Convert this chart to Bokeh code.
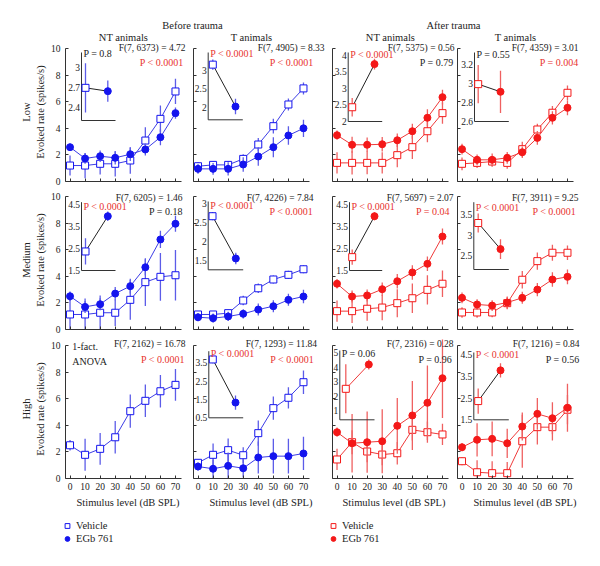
import numpy as np
from bokeh.plotting import figure
from bokeh.models import (Range1d, LinearAxis, Label, ColumnDataSource, FixedTicker,
                          Legend, LegendItem)
from bokeh.layouts import column, row
from bokeh.embed import file_html
from bokeh.resources import INLINE
from bokeh.core.properties import value

FONT = "Liberation Serif"

# ---------------- data ----------------
levels = [0, 10, 20, 30, 40, 50, 60, 70]
rate_ticks = [0, 2, 4, 6, 8, 10]
row_names = ["Low", "Medium", "High"]
group_titles = ["Before trauma", "After trauma"]
col_titles = ["NT animals", "T animals", "NT animals", "T animals"]
treatments = ["Vehicle", "EGb 761"]

# --- Low ---
nt_before_low_vehicle = [1.20, 1.20, 1.33, 1.33, 1.58, 3.08, 4.71, 6.77]
nt_before_low_vehicle_sem = [0.75, 0.95, 0.80, 0.95, 1.00, 1.00, 1.00, 0.95]
nt_before_low_egb = [2.58, 1.73, 1.90, 1.78, 2.05, 2.41, 3.33, 5.14]
nt_before_low_egb_sem = [0.25, 0.40, 0.43, 0.50, 0.50, 0.45, 0.60, 0.43]
t_before_low_vehicle = [1.15, 1.25, 1.25, 1.70, 2.78, 4.16, 5.79, 7.00]
t_before_low_vehicle_sem = [0.30, 0.30, 0.30, 0.35, 0.50, 0.55, 0.45, 0.45]
t_before_low_egb = [0.95, 0.95, 0.95, 1.28, 1.88, 2.58, 3.46, 4.00]
t_before_low_egb_sem = [0.37, 0.45, 0.50, 0.55, 0.70, 0.75, 0.70, 0.65]
nt_after_low_vehicle = [1.40, 1.40, 1.40, 1.40, 1.98, 2.58, 3.78, 5.14]
nt_after_low_vehicle_sem = [0.80, 0.88, 0.85, 0.80, 0.90, 0.88, 0.82, 0.80]
nt_after_low_egb = [3.48, 2.76, 2.76, 2.80, 3.10, 3.78, 4.79, 6.34]
nt_after_low_egb_sem = [0.35, 0.60, 0.55, 0.55, 0.50, 0.57, 0.64, 0.55]
t_after_low_vehicle = [1.33, 1.40, 1.50, 1.40, 2.43, 3.91, 5.17, 6.67]
t_after_low_vehicle_sem = [0.48, 0.38, 0.40, 0.44, 0.56, 0.44, 0.50, 0.54]
t_after_low_egb = [2.43, 1.63, 1.63, 1.78, 2.20, 3.28, 4.79, 5.54]
t_after_low_egb_sem = [0.40, 0.40, 0.48, 0.44, 0.44, 0.52, 0.50, 0.56]

# --- Medium ---
nt_before_med_vehicle = [1.13, 1.13, 1.26, 1.26, 2.23, 3.56, 3.96, 4.08]
nt_before_med_vehicle_sem = [1.25, 1.20, 1.30, 1.00, 1.50, 1.80, 1.80, 1.90]
nt_before_med_egb = [2.50, 1.70, 1.90, 2.70, 3.26, 4.68, 6.77, 7.95]
nt_before_med_egb_sem = [0.35, 0.45, 0.45, 0.50, 0.55, 0.60, 0.65, 0.60]
t_before_med_vehicle = [1.13, 1.13, 1.23, 2.18, 3.10, 3.76, 4.11, 4.53]
t_before_med_vehicle_sem = [0.20, 0.25, 0.25, 0.35, 0.35, 0.30, 0.30, 0.30]
t_before_med_egb = [0.92, 0.85, 0.98, 1.18, 1.50, 1.75, 2.23, 2.48]
t_before_med_egb_sem = [0.30, 0.35, 0.35, 0.35, 0.45, 0.45, 0.45, 0.50]
nt_after_med_vehicle = [1.38, 1.38, 1.56, 1.65, 1.98, 2.35, 2.98, 3.44]
nt_after_med_vehicle_sem = [0.80, 0.90, 0.90, 0.95, 1.05, 1.10, 1.10, 1.00]
nt_after_med_egb = [3.44, 2.48, 2.56, 3.03, 3.63, 4.29, 4.94, 6.99]
nt_after_med_egb_sem = [0.35, 0.45, 0.45, 0.50, 0.55, 0.55, 0.55, 0.60]
t_after_med_vehicle = [1.28, 1.28, 1.28, 1.98, 3.74, 5.14, 5.77, 5.77]
t_after_med_vehicle_sem = [0.40, 0.40, 0.35, 0.45, 0.65, 0.65, 0.60, 0.55]
t_after_med_egb = [2.38, 1.88, 1.80, 2.03, 2.38, 3.00, 3.76, 3.96]
t_after_med_egb_sem = [0.40, 0.40, 0.40, 0.45, 0.45, 0.50, 0.55, 0.55]

# --- High ---
nt_before_high_vehicle = [2.50, 1.78, 2.23, 3.10, 5.06, 5.84, 6.56, 7.04]
nt_before_high_vehicle_sem = [0.40, 1.20, 1.20, 1.22, 1.25, 1.22, 1.22, 1.20]
t_before_high_vehicle = [1.18, 1.78, 2.13, 1.75, 3.41, 5.29, 6.07, 7.24]
t_before_high_vehicle_sem = [0.25, 0.85, 0.88, 0.60, 0.95, 0.88, 0.80, 0.88]
t_before_high_egb = [0.90, 0.73, 0.95, 0.77, 1.58, 1.68, 1.68, 1.88]
t_before_high_egb_sem = [0.30, 0.70, 1.00, 0.70, 1.20, 1.30, 1.30, 1.25]
nt_after_high_vehicle = [1.43, 2.73, 2.03, 1.80, 1.90, 3.66, 3.48, 3.31]
nt_after_high_vehicle_sem = [0.80, 0.90, 0.80, 0.80, 0.85, 0.80, 0.80, 0.80]
nt_after_high_egb = [3.48, 2.65, 2.73, 2.80, 3.96, 4.74, 5.69, 7.54]
nt_after_high_egb_sem = [0.35, 2.20, 2.30, 2.40, 2.10, 2.60, 2.80, 3.00]
t_after_high_vehicle = [1.30, 0.47, 0.40, 0.40, 2.80, 3.86, 3.86, 5.17]
t_after_high_vehicle_sem = [0.30, 0.90, 0.90, 0.85, 2.00, 1.30, 1.00, 1.10]
t_after_high_egb = [2.35, 2.91, 2.98, 2.65, 3.91, 4.86, 4.53, 5.32]
t_after_high_egb_sem = [0.30, 1.25, 1.30, 1.10, 1.05, 1.20, 1.20, 1.80]

# --- statistics text ---
f_stats = [["F(7, 6373) = 4.72", "F(7, 4905) = 8.33", "F(7, 5375) = 0.56", "F(7, 4359) = 3.01"],
           ["F(7, 6205) = 1.46", "F(7, 4226) = 7.84", "F(7, 5697) = 2.07", "F(7, 3911) = 9.25"],
           ["F(7, 2162) = 16.78", "F(7, 1293) = 11.84", "F(7, 2316) = 0.28", "F(7, 1216) = 0.84"]]
p_main = [["P < 0.0001", "P < 0.0001", "P = 0.79", "P = 0.004"],
          ["P = 0.18", "P < 0.0001", "P = 0.04", "P < 0.0001"],
          ["P < 0.0001", "P < 0.0001", "P = 0.96", "P = 0.56"]]
p_main_signif = [[True, True, False, True],
                 [False, True, True, True],
                 [True, True, False, False]]
anova_note = ["1-fact.", "ANOVA"]

# --- insets: [Vehicle, EGb 761] mean rate over levels ---
inset_nt_before_low = [2.70, 2.65]
inset_nt_before_low_sem = [0.37, 0.16]
inset_t_before_low = [3.16, 2.02]
inset_t_before_low_sem = [0.14, 0.21]
inset_nt_after_low = [2.43, 3.73]
inset_nt_after_low_sem = [0.28, 0.16]
inset_t_after_low = [2.99, 2.91]
inset_t_after_low_sem = [0.20, 0.22]
inset_nt_before_med = [2.37, 3.98]
inset_nt_before_med_sem = [0.60, 0.22]
inset_t_before_med = [2.67, 1.55]
inset_t_before_med_sem = [0.11, 0.15]
inset_nt_after_med = [2.11, 3.98]
inset_nt_after_med_sem = [0.35, 0.18]
inset_t_after_med = [3.30, 2.66]
inset_t_after_med_sem = [0.23, 0.24]
inset_t_before_high = [3.68, 1.33]
inset_t_before_high_sem = [0.20, 0.39]
inset_nt_after_high = [2.50, 4.19]
inset_nt_after_high_sem = [1.70, 0.35]
inset_t_after_high = [2.36, 3.77]
inset_t_after_high_sem = [0.58, 0.33]

inset_ticks_nt_before_low = [2.4, 2.7, 3.0]
inset_ticks_t_before_low = [2.0, 2.5, 3.0]
inset_ticks_nt_after_low = [2.0, 2.5, 3.0, 3.5, 4.0]
inset_ticks_t_after_low = [2.6, 2.8, 3.0, 3.2]
inset_ticks_nt_before_med = [1.5, 2.5, 3.5, 4.5]
inset_ticks_t_before_med = [1.5, 2.0, 2.5, 3.0]
inset_ticks_nt_after_med = [1.5, 2.5, 3.5, 4.5]
inset_ticks_t_after_med = [2.5, 3.0, 3.5]
inset_ticks_t_before_high = [0.5, 1.5, 2.5, 3.5]
inset_ticks_nt_after_high = [1, 2, 3, 4, 5]
inset_ticks_t_after_high = [1.5, 2.5, 3.5, 4.5]

inset_p = [["P = 0.8", "P < 0.0001", "P < 0.0001", "P = 0.55"],
           ["P < 0.0001", "P < 0.0001", "P < 0.0001", "P < 0.0001"],
           [None, "P < 0.0001", "P = 0.06", "P < 0.0001"]]
inset_p_signif = [[False, True, True, False],
                  [True, True, True, True],
                  [False, True, False, True]]

# ---------------- styles / layout ----------------
BLUE = dict(marker="#1414ee", line="#3c3ce6", err="#5c5ce8")
RED = dict(marker="#f41818", line="#ef3a3a", err="#ef6060")
P_RED = "#e8332e"
TXT = "#222222"
AX = "#333333"

AW, AH = 116, 133          # axis box (data area) size in px
XR = (-3, 74)              # x data span of the axis box
YR = (0, 10)               # y data span of the axis box
PXU = AW / (XR[1] - XR[0])
PYU = AH / (YR[1] - YR[0])
col_left = [65, 3, 4, 2]   # space left of axis box
col_right = [9, 19, 7, 19] # free space right of axis box (inside frame, no axis there)
row_top = [6, 6, 6]        # free space above axis box (inside frame)
row_bottom = [9, 10, 32]
HEADER_H = 42
FOOTER_H = 35

# offsets (px) of F / P stat labels from axis-box top-right corner
f_dx = [[4, 15, 6, 5], [1, 4, 5, 5], [4, 7.5, 5, 6]]
p_dx = [[2, 4, 5, 5], [1.3, 3.7, 1.3, 2.7], [3.3, 4.5, 3.7, 6]]
f_dy = [-0.5, 1, -1.5]
p_dy = [14, 15, 13.7]
# vertical offset (px) of inset P label centre below inset axis top
inset_p_dy = [[1.3, 1.3, 2.3, 2.3], [4, 4, 4, 5.6], [0, 2.6, 3.3, 2]]

# inset geometry: left, right, top, bottom, x of vehicle, x of EGb (px from axis-box top-left)
inset_geom = [
    [dict(l=16, r=50, t=4, b=72, xv=20, xe=42.3, lim=(2.21, 3.23)),
     dict(l=14.7, r=49.3, t=4, b=71.3, xv=19.3, xe=42, lim=(1.66, 3.49)),
     dict(l=15.7, r=49.7, t=4, b=73, xv=19.7, xe=42, lim=(2.0, 4.08)),
     dict(l=17, r=51.3, t=4, b=73, xv=20.7, xe=43, lim=(2.6, 3.32))],
    [dict(l=16, r=50, t=5.7, b=74, xv=20, xe=42.3, lim=(1.5, 4.62)),
     dict(l=14.7, r=49.7, t=5, b=73.3, xv=19, xe=42.3, lim=(1.25, 3.06)),
     dict(l=17, r=49.7, t=5.7, b=74, xv=19.7, xe=42, lim=(1.5, 4.62)),
     dict(l=16.3, r=51.3, t=5.7, b=73, xv=20.7, xe=43, lim=(2.16, 3.81))],
    [None,
     dict(l=15.3, r=49.7, t=5.7, b=72.3, xv=19.3, xe=42, lim=(0.5, 4.13)),
     dict(l=7.3, r=42, t=5, b=74.3, xv=13.3, xe=36.3, lim=(0.35, 5.16)),
     dict(l=16.3, r=51.3, t=7, b=74.3, xv=20.7, xe=43, lim=(1.5, 4.59))],
]

series = [
    [(nt_before_low_vehicle, nt_before_low_vehicle_sem, nt_before_low_egb, nt_before_low_egb_sem),
     (t_before_low_vehicle, t_before_low_vehicle_sem, t_before_low_egb, t_before_low_egb_sem),
     (nt_after_low_vehicle, nt_after_low_vehicle_sem, nt_after_low_egb, nt_after_low_egb_sem),
     (t_after_low_vehicle, t_after_low_vehicle_sem, t_after_low_egb, t_after_low_egb_sem)],
    [(nt_before_med_vehicle, nt_before_med_vehicle_sem, nt_before_med_egb, nt_before_med_egb_sem),
     (t_before_med_vehicle, t_before_med_vehicle_sem, t_before_med_egb, t_before_med_egb_sem),
     (nt_after_med_vehicle, nt_after_med_vehicle_sem, nt_after_med_egb, nt_after_med_egb_sem),
     (t_after_med_vehicle, t_after_med_vehicle_sem, t_after_med_egb, t_after_med_egb_sem)],
    [(nt_before_high_vehicle, nt_before_high_vehicle_sem, None, None),
     (t_before_high_vehicle, t_before_high_vehicle_sem, t_before_high_egb, t_before_high_egb_sem),
     (nt_after_high_vehicle, nt_after_high_vehicle_sem, nt_after_high_egb, nt_after_high_egb_sem),
     (t_after_high_vehicle, t_after_high_vehicle_sem, t_after_high_egb, t_after_high_egb_sem)],
]
insets = [
    [(inset_nt_before_low, inset_nt_before_low_sem, inset_ticks_nt_before_low),
     (inset_t_before_low, inset_t_before_low_sem, inset_ticks_t_before_low),
     (inset_nt_after_low, inset_nt_after_low_sem, inset_ticks_nt_after_low),
     (inset_t_after_low, inset_t_after_low_sem, inset_ticks_t_after_low)],
    [(inset_nt_before_med, inset_nt_before_med_sem, inset_ticks_nt_before_med),
     (inset_t_before_med, inset_t_before_med_sem, inset_ticks_t_before_med),
     (inset_nt_after_med, inset_nt_after_med_sem, inset_ticks_nt_after_med),
     (inset_t_after_med, inset_t_after_med_sem, inset_ticks_t_after_med)],
    [None,
     (inset_t_before_high, inset_t_before_high_sem, inset_ticks_t_before_high),
     (inset_nt_after_high, inset_nt_after_high_sem, inset_ticks_nt_after_high),
     (inset_t_after_high, inset_t_after_high_sem, inset_ticks_t_after_high)],
]


def fmt_tick(t):
    return "%g" % t


def y_from_top(dy):
    return YR[1] - dy / PYU


def x_from_left(dx):
    return XR[0] + dx / PXU


def style_axis(ax):
    ax.axis_line_color = AX
    ax.major_tick_line_color = AX
    ax.minor_tick_line_color = None
    ax.major_tick_in = 3
    ax.major_tick_out = 0
    ax.major_label_text_font = FONT
    ax.major_label_text_font_size = "9.5px"
    ax.major_label_text_color = TXT
    ax.axis_label_text_font = FONT
    ax.axis_label_text_font_style = "normal"
    ax.axis_label_text_font_size = "10.5px"
    ax.axis_label_text_color = TXT


def draw_series(p, vals, sems, pal, marker):
    v = np.array(vals, dtype=float)
    e = np.array(sems, dtype=float)
    src = ColumnDataSource(dict(x=levels, y=v, lo=v - e, hi=v + e))
    p.segment("x", "lo", "x", "hi", source=src, line_color=pal["err"], line_width=1.3)
    p.line("x", "y", source=src, line_color=pal["line"], line_width=1)
    if marker == "square":
        p.scatter("x", "y", source=src, marker="square", size=7, fill_color="white",
                  line_color=pal["marker"], line_width=1)
    else:
        p.scatter("x", "y", source=src, marker="circle", size=7, fill_color=pal["marker"],
                  line_color=pal["marker"])


def add_inset(p, ri, ci, vals, sems, ticks, g, pal, ptext, pcolor, link_color):
    fw = AW + col_right[ci]
    bx = g["xe"] - g["xv"]
    u_start = (0 - g["xv"]) / bx
    u_end = (fw - g["xv"]) / bx
    vmin, vmax = g["lim"]
    by = (g["b"] - g["t"]) / (vmax - vmin)
    v_start = vmin - (AH - g["b"]) / by
    v_end = vmax + (g["t"] + row_top[ri]) / by
    p.extra_x_ranges = {"ix": Range1d(u_start, u_end)}
    p.extra_y_ranges = {"iy": Range1d(v_start, v_end)}
    u_axis = (g["l"] - g["xv"]) / bx
    u_right = (g["r"] - g["xv"]) / bx
    kw = dict(x_range_name="ix", y_range_name="iy")
    p.segment([u_axis, u_axis], [vmin, vmin], [u_axis, u_right], [vmax, vmin],
              line_color=AX, line_width=1, **kw)
    for t in ticks:
        p.add_layout(Label(x=u_axis, y=t, text=fmt_tick(t), text_align="right",
                           text_baseline="middle", x_offset=-1.5, text_font=FONT,
                           text_font_size="9.5px", text_color=TXT, **kw))
    u = [i for i, _ in enumerate(treatments)]
    v = np.array(vals, dtype=float)
    e = np.array(sems, dtype=float)
    src = ColumnDataSource(dict(x=u, y=v, lo=v - e, hi=v + e))
    p.segment("x", "lo", "x", "hi", source=src, line_color=pal["err"], line_width=1.3, **kw)
    p.line("x", "y", source=src, line_color=link_color, line_width=1, **kw)
    p.scatter(x=[u[0]], y=[v[0]], marker="square", size=7, fill_color="white",
              line_color=pal["marker"], line_width=1, **kw)
    p.scatter(x=[u[1]], y=[v[1]], marker="circle", size=7, fill_color=pal["marker"],
              line_color=pal["marker"], **kw)
    p.add_layout(Label(x=u_axis, y=vmax - inset_p_dy[ri][ci] / by, text=ptext,
                       text_align="left", text_baseline="middle", x_offset=2, text_font=FONT,
                       text_font_size="10px", text_color=pcolor, **kw))


def make_panel(ri, ci):
    fw = AW + col_right[ci]
    fh = AH + row_top[ri]
    xr = Range1d(XR[0], XR[1] + col_right[ci] / PXU)
    yr = Range1d(YR[0], YR[1] + row_top[ri] / PYU)
    p = figure(frame_width=fw, frame_height=fh, x_range=xr, y_range=yr,
               min_border_left=col_left[ci], min_border_right=0,
               min_border_top=0, min_border_bottom=row_bottom[ri],
               toolbar_location=None, output_backend="svg", tools="")
    p.grid.visible = False
    p.outline_line_color = None
    xa = p.xaxis[0]
    ya = p.yaxis[0]
    style_axis(xa)
    style_axis(ya)
    xa.ticker = FixedTicker(ticks=levels)
    ya.ticker = FixedTicker(ticks=rate_ticks)
    xa.bounds = XR
    ya.bounds = YR
    if ri == 2:
        xa.axis_label = "Stimulus level (dB SPL)"
        xa.major_label_standoff = 4
        xa.axis_label_standoff = 4
    else:
        xa.major_label_overrides = {lv: "" for lv in levels}
        xa.major_label_text_font_size = "0px"
        xa.major_label_standoff = 0
    if ci == 0:
        ya.axis_label = "Evoked rate (spikes/s)"
        ya.major_label_standoff = 5
        ya.axis_label_standoff = 2
        grp = LinearAxis(axis_label=row_names[ri], ticker=FixedTicker(ticks=[]))
        style_axis(grp)
        grp.axis_line_color = None
        grp.major_tick_line_color = None
        grp.axis_label_standoff = 0
        p.add_layout(grp, "left")
    else:
        ya.major_label_overrides = {t: "" for t in rate_ticks}
        ya.major_label_text_font_size = "0px"
        ya.major_label_standoff = 0

    pal = BLUE if ci < 2 else RED
    veh, veh_sem, egb, egb_sem = series[ri][ci]
    draw_series(p, veh, veh_sem, pal, "square")
    if egb is not None:
        draw_series(p, egb, egb_sem, pal, "circle")

    p.add_layout(Label(x=XR[1], y=y_from_top(f_dy[ri]), text=f_stats[ri][ci], text_align="right",
                       text_baseline="middle", x_offset=f_dx[ri][ci], text_font=FONT,
                       text_font_size="9.5px", text_color=TXT))
    p.add_layout(Label(x=XR[1], y=y_from_top(p_dy[ri]), text=p_main[ri][ci], text_align="right",
                       text_baseline="middle", x_offset=p_dx[ri][ci], text_font=FONT,
                       text_font_size="10px",
                       text_color=P_RED if p_main_signif[ri][ci] else TXT))
    if insets[ri][ci] is None:
        for k, line in enumerate(anova_note):
            p.add_layout(Label(x=x_from_left(6.7), y=y_from_top(0.7 + 15.3 * k), text=line,
                               text_align="left", text_baseline="middle", text_font=FONT,
                               text_font_size="10px", text_color=TXT))
    else:
        ivals, isems, iticks = insets[ri][ci]
        link = RED["line"] if (ri == 2 and ci == 2) else "#222222"
        add_inset(p, ri, ci, ivals, isems, iticks, inset_geom[ri][ci], pal, inset_p[ri][ci],
                  P_RED if inset_p_signif[ri][ci] else TXT, link)
    return p


rows = []
for ri in range(3):
    rows.append(row(*[make_panel(ri, ci) for ci in range(4)]))

# ---- header with group / column titles ----
W = sum(col_left) + sum(col_right) + 4 * AW
frame_centers = []
acc = 0
for ci in range(4):
    frame_centers.append(acc + col_left[ci] + AW / 2)
    acc += col_left[ci] + AW + col_right[ci]
hdr = figure(width=W, height=HEADER_H, x_range=Range1d(0, W), y_range=Range1d(HEADER_H, 0),
             x_axis_type=None, y_axis_type=None, min_border=0, toolbar_location=None,
             output_backend="svg", tools="")
hdr.outline_line_color = None
group_x = [192, 453]
hdr.text(x=group_x, y=[25, 25], text=group_titles, text_align="center", text_baseline="middle",
         text_font=value(FONT), text_font_size="10.5px", text_color=TXT)
hdr.text(x=frame_centers, y=[36.5] * 4, text=col_titles, text_align="center",
         text_baseline="middle", text_font=value(FONT), text_font_size="10.5px", text_color=TXT)

# ---- footer with legends ----
ftr = figure(width=W, height=FOOTER_H, x_range=Range1d(0, W), y_range=Range1d(FOOTER_H, 0),
             x_axis_type=None, y_axis_type=None, min_border=0, toolbar_location=None,
             output_backend="svg", tools="")
ftr.outline_line_color = None
nan = np.array([np.nan])
for pal, lx in ((BLUE, 61), (RED, 327)):
    r_v = ftr.scatter(x=nan, y=nan, marker="square", size=5, fill_color="white",
                      line_color=pal["marker"])
    r_e = ftr.scatter(x=nan, y=nan, marker="circle", size=5, fill_color=pal["marker"],
                      line_color=pal["marker"])
    lg = Legend(items=[LegendItem(label=treatments[0], renderers=[r_v]),
                       LegendItem(label=treatments[1], renderers=[r_e])],
                location=(lx, 0), orientation="vertical", glyph_width=12, glyph_height=13,
                label_height=13, label_standoff=3, padding=0, spacing=0, margin=0,
                border_line_color=None, background_fill_alpha=0,
                label_text_font=FONT, label_text_font_size="10.5px", label_text_color=TXT)
    ftr.add_layout(lg)

layout = column(hdr, *rows, ftr)
open("out.html", "w").write(file_html(layout, INLINE))
